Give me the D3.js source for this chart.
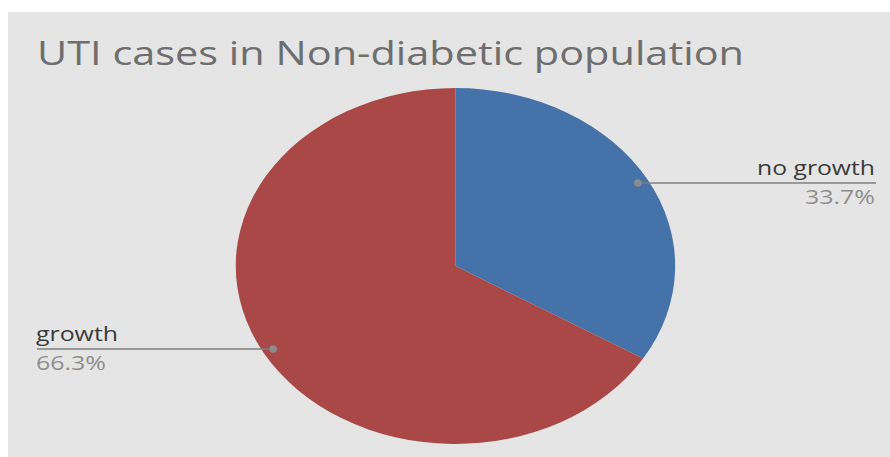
<!DOCTYPE html>
<html>
<head>
<meta charset="utf-8">
<script src="https://cdn.jsdelivr.net/npm/d3@7/dist/d3.min.js"></script>
<style>
  html, body { margin: 0; padding: 0; background: #ffffff; }
  svg { display: block; }
</style>
</head>
<body>
<script>
// Share of UTI cases in the non-diabetic population
const categories = ["no growth", "growth"];
const values = [33.7, 66.3];
const percentLabels = ["33.7%", "66.3%"];
const colors = ["#4672AA", "#A94846"];

const W = 890, H = 457;
const svg = d3.select("body").append("svg")
  .attr("width", W).attr("height", H);

// chart area
svg.append("rect")
  .attr("x", 8).attr("y", 12)
  .attr("width", W - 8).attr("height", H - 12)
  .attr("fill", "#E5E5E5");

svg.append("text")
  .attr("x", 37).attr("y", 65)
  .attr("font-family", "'Open Sans', sans-serif")
  .attr("font-size", 33)
  .attr("fill", "#6E6E6E")
  .attr("textLength", 707)
  .attr("lengthAdjust", "spacingAndGlyphs")
  .text("UTI cases in Non-diabetic population");

// pie is drawn on a unit circle then stretched into the plot ellipse
const cx = 455.5, cy = 266, rx = 219.7, ry = 178;
const data = categories.map((c, i) => ({ name: c, value: values[i], label: percentLabels[i], color: colors[i] }));
const pie = d3.pie().sort(null).value(d => d.value);
const arcs = pie(data);
const arc = d3.arc().innerRadius(0).outerRadius(1);

const g = svg.append("g")
  .attr("transform", `translate(${cx},${cy}) scale(${rx},${ry})`);
g.selectAll("path")
  .data(arcs)
  .join("path")
  .attr("d", arc)
  .attr("fill", d => d.data.color);

// leader lines and labels
const dotR = 0.952;
const lineColor = "#7F7F7F";
arcs.forEach((a, i) => {
  const mid = (a.startAngle + a.endAngle) / 2;
  const px = cx + rx * dotR * Math.sin(mid);
  const py = cy - ry * dotR * Math.cos(mid);
  const right = Math.sin(mid) > 0;
  const endX = right ? 876 : 37;

  svg.append("line")
    .attr("x1", px).attr("y1", py)
    .attr("x2", endX).attr("y2", py)
    .attr("stroke", lineColor)
    .attr("stroke-width", 1.6);
  svg.append("circle")
    .attr("cx", px).attr("cy", py).attr("r", 3.8)
    .attr("fill", "#8C8C8C");

  const anchor = right ? "end" : "start";
  const tx = right ? 875 : 36;
  svg.append("text")
    .attr("x", tx).attr("y", py - 8)
    .attr("text-anchor", anchor)
    .attr("font-family", "'Open Sans', sans-serif")
    .attr("font-size", 20)
    .attr("fill", "#3A3A3A")
    .attr("textLength", right ? 118 : 82)
    .attr("lengthAdjust", "spacingAndGlyphs")
    .text(a.data.name);
  svg.append("text")
    .attr("x", tx).attr("y", py + 21)
    .attr("text-anchor", anchor)
    .attr("font-family", "'Open Sans', sans-serif")
    .attr("font-size", 20)
    .attr("fill", "#8E8E8E")
    .attr("textLength", 70)
    .attr("lengthAdjust", "spacingAndGlyphs")
    .text(a.data.label);
});
</script>
</body>
</html>
